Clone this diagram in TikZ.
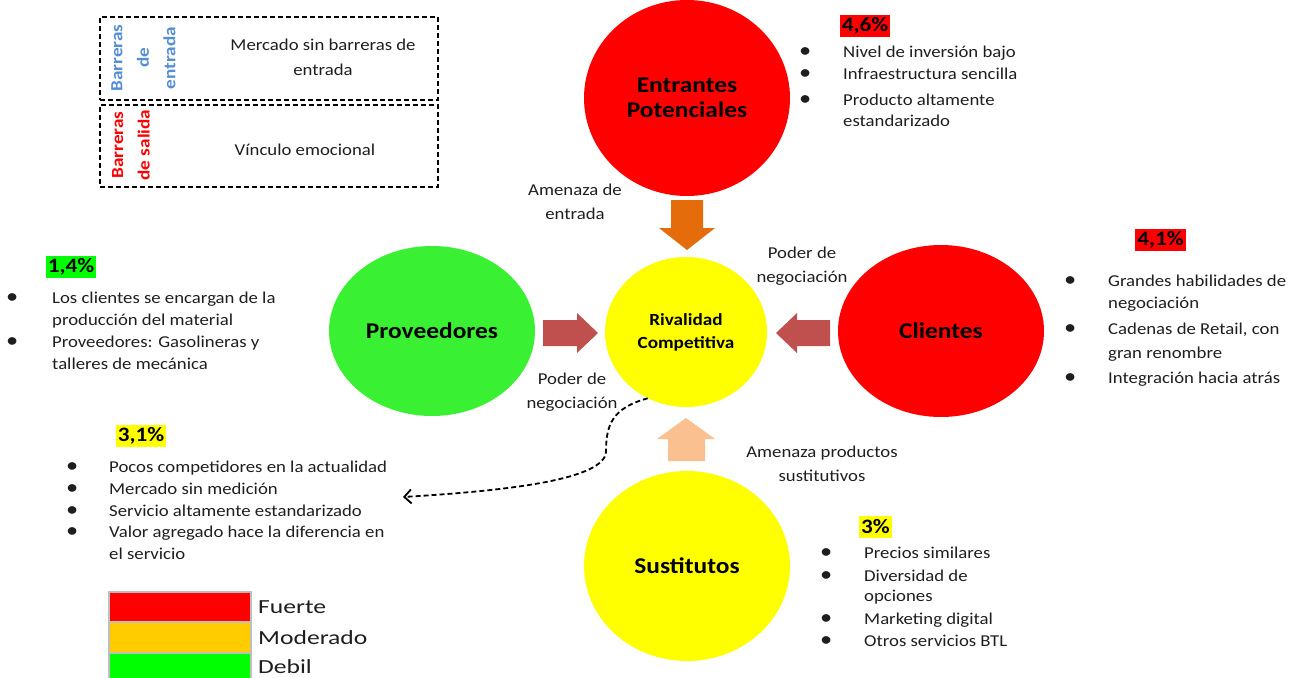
\documentclass[tikz,border=0pt]{standalone}
\usepackage{fontspec}
\setmainfont{Carlito}[FakeStretch=1.13]
\newfontfamily\legfont{Carlito}[FakeStretch=1.28]
\usetikzlibrary{shapes.geometric,arrows.meta}
\definecolor{txt}{RGB}{30,30,30}
\definecolor{cred}{RGB}{255,0,0}
\definecolor{cgreen}{RGB}{58,240,50}
\definecolor{cyellow}{RGB}{255,255,0}
\definecolor{corange}{RGB}{228,108,10}
\definecolor{cbrick}{RGB}{192,80,77}
\definecolor{cpeach}{RGB}{250,192,144}
\definecolor{cblue}{RGB}{85,142,213}
\definecolor{legorange}{RGB}{255,204,0}
\definecolor{leggreen}{RGB}{0,255,0}
\definecolor{leggray}{RGB}{191,191,191}
\newcommand{\bu}[1]{\makebox[#1][l]{\makebox[0pt]{\scalebox{1.3}{\textbullet}}}}
\tikzset{
 force/.style={ellipse, inner sep=0pt, text=black, font=\fontsize{22.5}{25}\selectfont\bfseries, align=center},
 body/.style={text=txt, font=\fontsize{16.6}{24}\selectfont, inner sep=0pt, align=center},
 listnode/.style={text=txt, font=\fontsize{16.6}{20}\selectfont, inner sep=0pt, anchor=base west},
 pct/.style={font=\fontsize{20.5}{22}\selectfont\bfseries, text=black, inner xsep=2pt, inner ysep=0pt, minimum height=22pt},
 barbox/.style={draw=black, dash pattern=on 5pt off 3pt, line width=1.8pt, minimum width=338pt, inner sep=0pt},
 vlabel/.style={rotate=90, align=center, font=\fontsize{17}{26.5}\selectfont\bfseries, inner sep=0pt},
 legbox/.style={draw=leggray, line width=1.5pt, minimum width=142pt, minimum height=30pt, inner sep=0pt},
 legtext/.style={font=\legfont\fontsize{20}{24}\selectfont, text=txt, anchor=base west, inner sep=0pt},
 dashcurve/.style={draw=black, dash pattern=on 5pt off 3pt, line width=1.8pt, -{Straight Barb[length=7pt,width=14pt]}},
}
\begin{document}
\begin{tikzpicture}[x=1pt,y=-1pt]
\useasboundingbox (0,0) rectangle (1303,677);
% forces
\node[force, fill=cred, minimum width=206pt, minimum height=196pt] (ent) at (687,98) {Entrantes\\Potenciales};
\node[force, fill=cgreen, minimum width=206pt, minimum height=170pt] (prov) at (432,331) {Proveedores};
\node[force, fill=cyellow, minimum width=162pt, minimum height=150pt, font=\fontsize{17}{23}\selectfont\bfseries] (riv) at (686,332) {Rivalidad\\Competitiva};
\node[force, fill=cred, minimum width=206pt, minimum height=172pt] (cli) at (941,331) {Clientes};
\node[force, fill=cyellow, minimum width=206pt, minimum height=190pt] (sus) at (687,566) {Sustitutos};
% block arrows
\fill[corange] (671,200) -- (703,200) -- (703,228) -- (715,228) -- (687,250) -- (659,228) -- (671,228) -- cycle;
\fill[cbrick] (543,320) -- (577,320) -- (577,313) -- (598,333) -- (577,353) -- (577,346) -- (543,346) -- cycle;
\fill[cbrick] (830,320) -- (797,320) -- (797,313) -- (776,333) -- (797,353) -- (797,346) -- (830,346) -- cycle;
\fill[cpeach] (668,461) -- (705,461) -- (705,439) -- (715,439) -- (686,418) -- (657,439) -- (668,439) -- cycle;
% dashed connector
\coordinate (dend) at (403,497);
\draw[dashcurve] (riv.240) .. controls (612,408) and (606,425) .. (606,452) .. controls (604,478) and (520,490) .. (dend);
% arrow labels
\node[body] (lament) at (575,202) {Amenaza de\\entrada};
\node[body] (lpod1) at (802,266) {Poder de\\negociación};
\node[body] (lpod2) at (572,392) {Poder de\\negociación};
\node[body] (lamsus) at (822,464) {Amenaza productos\\sustitutivos};
% barrier boxes
\node[barbox, minimum height=83pt] (bent) at (269,58.5) {};
\node[barbox, minimum height=82pt] (bsal) at (269,146) {};
\node[vlabel, text=cblue] (vent) at (143.5,58) {Barreras\\de\\entrada};
\node[vlabel, text=cred] (vsal) at (131,145) {Barreras\\de salida};
\node[body, font=\fontsize{16.6}{25}\selectfont] (tent) at (323,57) {Mercado sin barreras de\\entrada};
\node[body] (tsal) at (305,150) {Vínculo emocional};
% percentages
\node[pct, fill=cred] (p46) at (865,26) {4,6\%};
\node[pct, fill=leggreen] (p14) at (71,266.5) {1,4\%};
\node[pct, fill=cred] (p41) at (1160.5,240) {4,1\%};
\node[pct, fill=cyellow] (p31) at (141,436) {3,1\%};
\node[pct, fill=cyellow] (p3) at (875.5,527) {3\%};
% lists
\node[listnode] (lent) at (805,57) {\begin{tabular}[t]{@{}l@{}l@{}}
\bu{38pt}&Nivel de inversión bajo\\[2pt]
\bu{38pt}&Infraestructura sencilla\\[6pt]
\bu{38pt}&Producto altamente\\[1pt]
&estandarizado
\end{tabular}};
\node[listnode] (lprov) at (12,303) {\begin{tabular}[t]{@{}l@{}l@{}}
\bu{40pt}&Los clientes se encargan de la\\[2pt]
&producción del material\\[2pt]
\bu{40pt}&Proveedores: Gasolineras y\\[2pt]
&talleres de mecánica
\end{tabular}};
\node[listnode] (lcli) at (1070,286) {\begin{tabular}[t]{@{}l@{}l@{}}
\bu{38pt}&Grandes habilidades de\\[2pt]
&negociación\\[6pt]
\bu{38pt}&Cadenas de Retail, con\\[4pt]
&gran renombre\\[5pt]
\bu{38pt}&Integración hacia atrás
\end{tabular}};
\node[listnode] (lriv) at (72,472) {\begin{tabular}[t]{@{}l@{}l@{}}
\bu{37pt}&Pocos competidores en la actualidad\\[2pt]
\bu{37pt}&Mercado sin medición\\[2pt]
\bu{37pt}&Servicio altamente estandarizado\\[1pt]
\bu{37pt}&Valor agregado hace la diferencia en\\[2pt]
&el servicio
\end{tabular}};
\node[listnode] (lsus) at (826,558) {\begin{tabular}[t]{@{}l@{}l@{}}
\bu{38pt}&Precios similares\\[3pt]
\bu{38pt}&Diversidad de\\
&opciones\\[3pt]
\bu{38pt}&Marketing digital\\[2pt]
\bu{38pt}&Otros servicios BTL
\end{tabular}};
% legend
\node[legbox, fill=cred] (lg1) at (180,607) {};
\node[legbox, fill=legorange] (lg2) at (180,637.5) {};
\node[legbox, fill=leggreen] (lg3) at (180,668) {};
\node[legtext] (lt1) at (258,613) {Fuerte};
\node[legtext] (lt2) at (258,644) {Moderado};
\node[legtext] (lt3) at (258,673) {Debil};
\end{tikzpicture}
\end{document}
